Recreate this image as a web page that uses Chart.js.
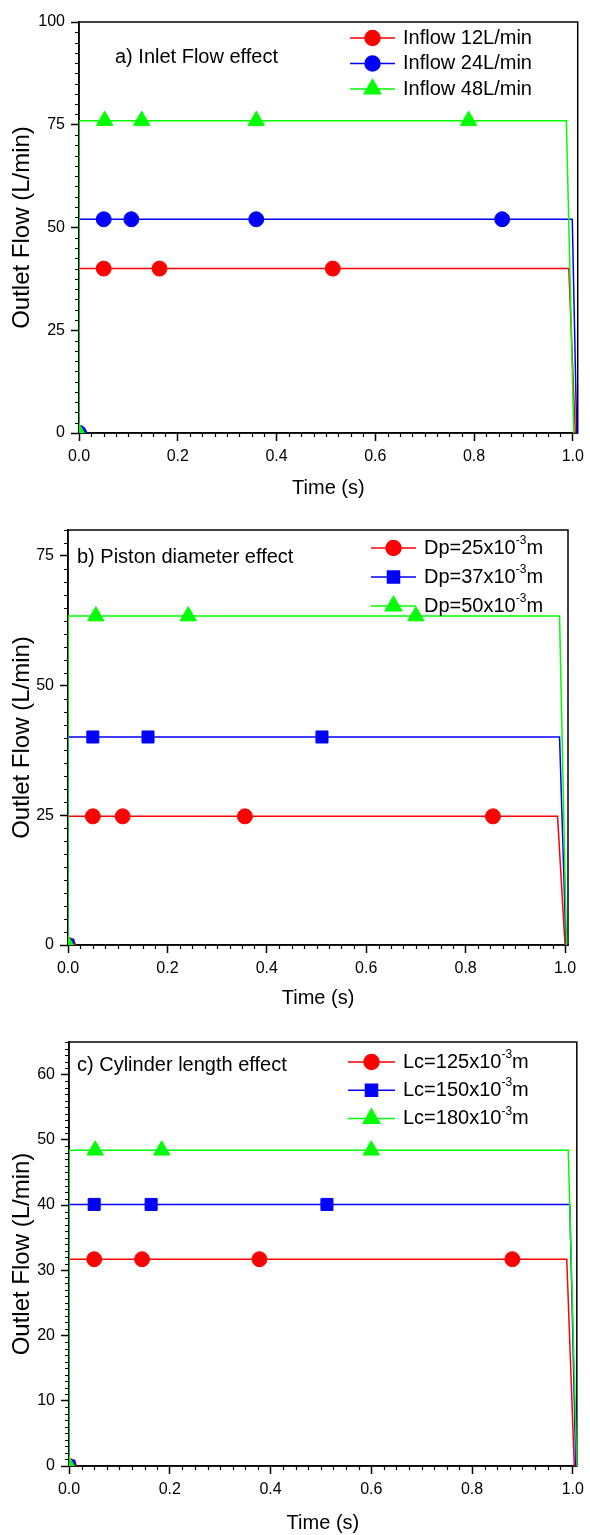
<!DOCTYPE html>
<html>
<head>
<meta charset="utf-8">
<title>Outlet flow</title>
<script src="https://cdn.jsdelivr.net/npm/chart.js@4.4.1/dist/chart.umd.min.js"></script>
<style>
  html, body { margin: 0; padding: 0; background: #fff; }
  canvas { display: block; }
</style>
</head>
<body>
<canvas id="chart-a" width="590" height="500"></canvas>
<canvas id="chart-b" width="590" height="510"></canvas>
<canvas id="chart-c" width="590" height="525"></canvas>
<script>
// Shared axis data
const xTicks = [0, 0.2, 0.4, 0.6, 0.8, 1.0]
const seriesColors = ['#ff0000', '#0000ff', '#00ff00']

// a) Inlet flow effect
const labelsA = ['Inflow 12L/min', 'Inflow 24L/min', 'Inflow 48L/min']
const levelsA = [40, 52, 76]
const markersA = [[0.05, 0.163, 0.514], [0.05, 0.106, 0.359, 0.857], [0.052, 0.127, 0.359, 0.789]]
const dropStartA = [0.992, 0.999, 0.987]
const dropEndA = [1.005, 1.008, 1.002]
const yTicksA = [0, 25, 50, 75, 100]

// b) Piston diameter effect
const labelsB = ['Dp=25x10^{-3}m', 'Dp=37x10^{-3}m', 'Dp=50x10^{-3}m']
const levelsB = [24.8, 40.1, 63.4]
const markersB = [[0.05, 0.11, 0.356, 0.855], [0.05, 0.161, 0.511], [0.056, 0.242, 0.7]]
const dropStartB = [0.985, 0.989, 0.989]
const dropEndB = [1.0, 1.002, 1.003]
const yTicksB = [0, 25, 50, 75]

// c) Cylinder length effect
const labelsC = ['Lc=125x10^{-3}m', 'Lc=150x10^{-3}m', 'Lc=180x10^{-3}m']
const levelsC = [31.7, 40.1, 48.4]
const markersC = [[0.05, 0.145, 0.378, 0.88], [0.05, 0.163, 0.512], [0.052, 0.184, 0.6]]
const dropStartC = [0.988, 0.994, 0.991]
const dropEndC = [1.003, 1.006, 1.008]
const yTicksC = [0, 10, 20, 30, 40, 50, 60]

const FONT = '"Liberation Sans", Arial, sans-serif'
const markerRadius = { circle: 7.5, rect: 8.5, triangle: 9.5 }

Chart.defaults.font.family = FONT
Chart.defaults.color = '#000'

function buildSeries(level, markers, dropStart, dropEnd) {
  return [{ x: 0, y: 0 }, { x: 0, y: level }]
    .concat(markers.map((t) => ({ x: t, y: level })))
    .concat([{ x: dropStart, y: level }, { x: dropEnd, y: 0 }])
}

function buildRadii(markers, style) {
  const r = markerRadius[style]
  return [r, 0].concat(markers.map(() => r)).concat([0, 0])
}

// draw text with ^{..} superscript parts
function drawRichText(ctx, text, x, y, size) {
  const parts = text.split(/(\^\{[^}]*\})/)
  let cx = x
  parts.forEach((p) => {
    if (!p) return
    if (p.startsWith('^{')) {
      const s = p.slice(2, -1)
      ctx.font = Math.round(size * 0.62) + 'px ' + FONT
      ctx.fillText(s, cx, y - size * 0.36)
      cx += ctx.measureText(s).width
    } else {
      ctx.font = size + 'px ' + FONT
      ctx.fillText(p, cx, y)
      cx += ctx.measureText(p).width
    }
  })
}

const panelDecor = {
  id: 'panelDecor',
  beforeDatasetsDraw(chart, args, opts) {
    const { ctx, chartArea } = chart
    ctx.save()
    ctx.strokeStyle = '#000'
    ctx.lineWidth = 1.5
    ctx.strokeRect(chartArea.left, chartArea.top, chartArea.right - chartArea.left, chartArea.bottom - chartArea.top)

    // minor ticks
    const xs = chart.scales.x
    const ys = chart.scales.y
    ctx.lineWidth = 1.2
    ctx.beginPath()
    const nx = Math.round((xs.max - xs.min) / opts.xMinor)
    for (let i = 0; i <= nx; i++) {
      const v = xs.min + i * opts.xMinor
      if (v > xs.max + 1e-9) break
      const q = v / 0.2
      if (Math.abs(q - Math.round(q)) < 1e-6) continue
      const px = Math.round(xs.getPixelForValue(v)) + 0.5
      ctx.moveTo(px, chartArea.bottom)
      ctx.lineTo(px, chartArea.bottom + 4)
    }
    const ny = Math.round((ys.max - ys.min) / opts.yMinor)
    for (let i = 0; i <= ny; i++) {
      const v = ys.min + i * opts.yMinor
      if (opts.yTicks.some((t) => Math.abs(t - v) < 1e-6)) continue
      const py = Math.round(ys.getPixelForValue(v)) + 0.5
      ctx.moveTo(chartArea.left, py)
      ctx.lineTo(chartArea.left - 4, py)
    }
    ctx.stroke()
    ctx.restore()
  },
  afterDraw(chart, args, opts) {
    const { ctx } = chart
    ctx.save()
    ctx.fillStyle = '#000'
    ctx.textBaseline = 'middle'
    ctx.textAlign = 'left'
    ctx.font = '20px ' + FONT
    ctx.fillText(opts.note, opts.noteX, opts.noteY)

    // legend inside plot: line + marker + label
    opts.labels.forEach((label, i) => {
      const y = opts.legY + i * opts.legGap
      const color = seriesColors[i]
      ctx.strokeStyle = color
      ctx.fillStyle = color
      ctx.lineWidth = 1.5
      ctx.beginPath()
      ctx.moveTo(opts.legX, y)
      ctx.lineTo(opts.legX + opts.legLen, y)
      ctx.stroke()
      const style = opts.styles[i]
      Chart.helpers.drawPoint(ctx, { pointStyle: style, radius: markerRadius[style], rotation: 0, borderWidth: 1 }, opts.legX + opts.legLen / 2, y)
      ctx.fillStyle = '#000'
      drawRichText(ctx, label, opts.legX + opts.legLen + 8, y, 20)
    })
    ctx.restore()
  },
}

function makePanel(id, p) {
  const datasets = p.labels.map((label, i) => ({
    label: label,
    data: buildSeries(p.levels[i], p.markers[i], p.dropStart[i], p.dropEnd[i]),
    borderColor: seriesColors[i],
    backgroundColor: seriesColors[i],
    borderWidth: 1.5,
    pointStyle: p.styles[i],
    pointRadius: buildRadii(p.markers[i], p.styles[i]),
    pointBorderWidth: 1,
    pointHoverRadius: 0,
    tension: 0,
    order: 2 - i,
  }))

  new Chart(document.getElementById(id), {
    type: 'line',
    data: { datasets: datasets },
    plugins: [panelDecor],
    options: {
      responsive: false,
      animation: false,
      events: [],
      layout: { padding: { top: p.padTop, right: p.padRight, left: 0, bottom: 0 } },
      scales: {
        x: {
          type: 'linear',
          min: 0,
          max: p.xMax,
          afterBuildTicks: (scale) => { scale.ticks = xTicks.map((v) => ({ value: v })) },
          afterFit: (scale) => { scale.height = p.xHeight },
          ticks: {
            autoSkip: false,
            maxRotation: 0,
            padding: 6,
            font: { size: 16 },
            color: '#000',
            callback: (v) => Number(v).toFixed(1),
          },
          grid: { drawOnChartArea: false, drawTicks: true, tickLength: 8, tickWidth: 1.5, tickColor: '#000' },
          border: { color: '#000', width: 1.5 },
          title: { display: true, text: 'Time (s)', font: { size: 20 }, color: '#000', padding: { top: 0, bottom: 0 } },
        },
        y: {
          type: 'linear',
          min: 0,
          max: p.yMax,
          afterBuildTicks: (scale) => { scale.ticks = p.yTicks.map((v) => ({ value: v })) },
          afterFit: (scale) => { scale.width = p.yWidth },
          ticks: { autoSkip: false, padding: 6, font: { size: 16 }, color: '#000' },
          grid: { drawOnChartArea: false, drawTicks: true, tickLength: 8, tickWidth: 1.5, tickColor: '#000' },
          border: { color: '#000', width: 1.5 },
          title: { display: true, text: 'Outlet Flow (L/min)', font: { size: 24 }, color: '#000', padding: { top: 8, bottom: 0 } },
        },
      },
      plugins: {
        legend: { display: false },
        tooltip: { enabled: false },
        panelDecor: {
          labels: p.labels,
          styles: p.styles,
          note: p.note,
          noteX: p.noteX,
          noteY: p.noteY,
          legX: p.legX,
          legLen: p.legLen,
          legY: p.legY,
          legGap: p.legGap,
          xMinor: 0.025,
          yMinor: p.yMinor,
          yTicks: p.yTicks,
        },
      },
    },
  })
}

makePanel('chart-a', {
  labels: labelsA, levels: levelsA, markers: markersA, dropStart: dropStartA, dropEnd: dropEndA,
  styles: ['circle', 'circle', 'triangle'],
  xMax: 1.01, yMax: 100, yTicks: yTicksA, yMinor: 2.5,
  yWidth: 79, xHeight: 67, padTop: 22, padRight: 8,
  note: 'a) Inlet Flow effect', noteX: 115, noteY: 57,
  legX: 350, legLen: 45, legY: 38, legGap: 25.5,
})

makePanel('chart-b', {
  labels: labelsB, levels: levelsB, markers: markersB, dropStart: dropStartB, dropEnd: dropEndB,
  styles: ['circle', 'rect', 'triangle'],
  xMax: 1.006, yMax: 80, yTicks: yTicksB, yMinor: 2.5,
  yWidth: 68, xHeight: 65, padTop: 30, padRight: 22,
  note: 'b) Piston diameter effect', noteX: 77, noteY: 57,
  legX: 371, legLen: 45, legY: 48, legGap: 29,
})

makePanel('chart-c', {
  labels: labelsC, levels: levelsC, markers: markersC, dropStart: dropStartC, dropEnd: dropEndC,
  styles: ['circle', 'rect', 'triangle'],
  xMax: 1.008, yMax: 65, yTicks: yTicksC, yMinor: 1,
  yWidth: 69, xHeight: 69, padTop: 32, padRight: 9,
  note: 'c) Cylinder length effect', noteX: 77, noteY: 55,
  legX: 348, legLen: 47, legY: 52, legGap: 28.3,
})
</script>
</body>
</html>
